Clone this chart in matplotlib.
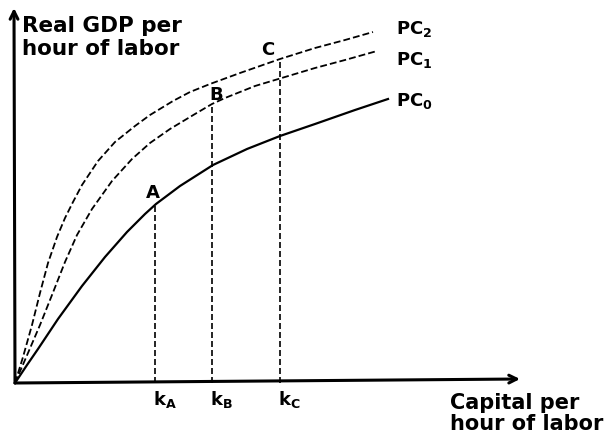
import numpy as np
import matplotlib.pyplot as plt

plt.rcParams['font.family'] = ['DejaVu Sans']
plt.rcParams['mathtext.default'] = 'bf'

# points (capital per hour vs real GDP per hour, arbitrary units)
pc0_x = [0, 12, 23, 43, 67, 90, 112, 130, 141, 165, 198, 232, 265, 300, 340, 373]
pc0_y = [0, 18, 34, 64, 97, 126, 151, 169, 179, 197, 218, 234, 247, 259, 273, 284]
pc1_x = [0, 13, 25, 37, 50, 62, 77, 97, 117, 135, 155, 180, 197, 210, 240, 270, 300, 330, 362]
pc1_y = [0, 30, 58, 88, 121, 148, 174, 202, 224, 240, 254, 269, 279, 285, 297, 306, 315, 323, 332]
pc2_x = [0, 8, 17, 25, 33, 42, 50, 58, 67, 83, 100, 120, 135, 158, 175, 195, 225, 265, 300, 330, 358]
pc2_y = [0, 26, 58, 90, 120, 146, 165, 181, 198, 222, 241, 257, 268, 282, 291, 299, 310, 324, 335, 343, 351]

k_names = ['A', 'B', 'C']
k_vals = [140, 197, 265]
k_curve = [pc0_y, pc1_y, pc2_y]
k_xs = [pc0_x, pc1_x, pc2_x]

fig = plt.figure(figsize=(6.09, 4.39), dpi=100)
ax = fig.add_axes([0, 0, 1, 1])
ax.set_xlim(-15, 594)
ax.set_ylim(-55, 384)
ax.axis('off')

# axes with arrows
ax.annotate('', xy=(-1, 375), xytext=(0, 0),
            arrowprops=dict(arrowstyle='->', lw=2.2, color='black',
                            mutation_scale=14, shrinkA=0, shrinkB=0))
ax.annotate('', xy=(505, 4), xytext=(0, 0),
            arrowprops=dict(arrowstyle='->', lw=2.2, color='black',
                            mutation_scale=14, shrinkA=0, shrinkB=0))

ax.plot(pc0_x, pc0_y, color='black', lw=1.6, solid_joinstyle='round')
ax.plot(pc1_x, pc1_y, color='black', lw=1.3, dashes=(3.8, 1.7))
ax.plot(pc2_x, pc2_y, color='black', lw=1.3, dashes=(3.8, 1.7))

# vertical guides from k to the curves
for name, kv, xs, ys in zip(k_names, k_vals, k_xs, k_curve):
    top = np.interp(kv, xs, ys)
    ax.plot([kv, kv], [0, top], color='black', lw=1.2, dashes=(3.6, 1.8))
    ax.text(kv - 2, -16, 'k$_{' + name + '}$', fontsize=13, fontweight='bold',
            ha='left', va='center')

ax.text(138, 191, 'A', fontsize=13, fontweight='bold', ha='center', va='center')
ax.text(201, 289, 'B', fontsize=13, fontweight='bold', ha='center', va='center')
ax.text(253, 334, 'C', fontsize=13, fontweight='bold', ha='center', va='center')

ax.text(381, 355, 'PC$_2$', fontsize=13, fontweight='bold', ha='left', va='center')
ax.text(381, 324, 'PC$_1$', fontsize=13, fontweight='bold', ha='left', va='center')
ax.text(381, 283, 'PC$_0$', fontsize=13, fontweight='bold', ha='left', va='center')

ax.text(7, 368, 'Real GDP per\nhour of labor', fontsize=15.5, fontweight='bold',
        ha='left', va='top', linespacing=1.2)
ax.text(435, -9, 'Capital per\nhour of labor', fontsize=15, fontweight='bold',
        ha='left', va='top', linespacing=1.05)

fig.savefig('out.png', dpi=100)
